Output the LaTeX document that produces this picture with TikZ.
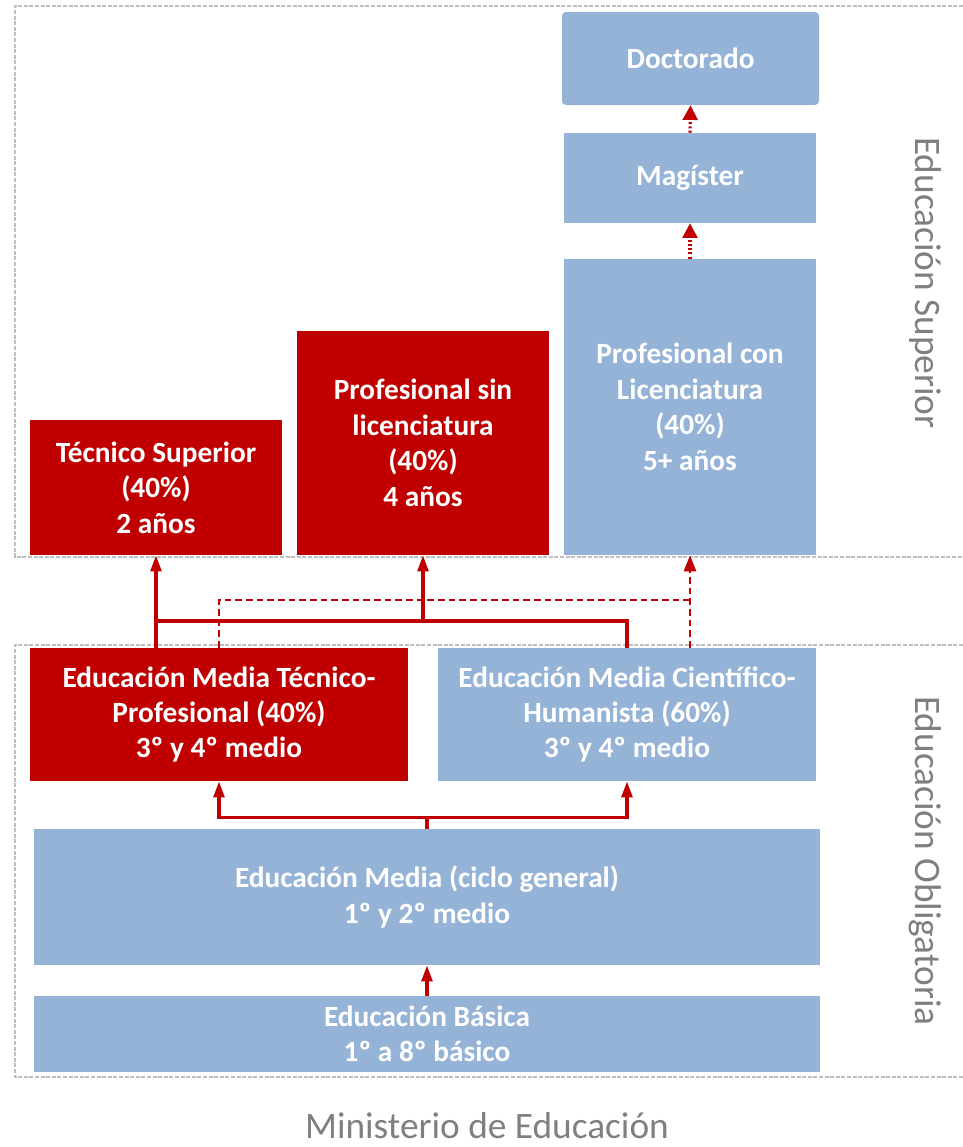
\documentclass[tikz,border=0pt]{standalone}
\usepackage{fontspec}
\setmainfont{Carlito}
\usetikzlibrary{arrows.meta}
\definecolor{rojo}{HTML}{C00000}
\definecolor{azul}{HTML}{95B3D7}
\definecolor{gris}{HTML}{7F7F7F}
\definecolor{borde}{HTML}{BFBFBF}

\begin{document}
\begin{tikzpicture}[x=0.75pt,y=-0.75pt,
	nivel/.style={rectangle, inner sep=0pt, align=center, text=white,
		font=\bfseries\fontsize{22}{26.6}\selectfont},
	caja/.style 2 args={minimum width=#1*0.75pt, minimum height=#2*0.75pt},
	etiqueta/.style={text=gris, font=\fontsize{28}{32}\selectfont},
	marco/.style={draw=borde, line width=0.9pt, dash pattern=on 3pt off 1.2pt},
	linea/.style={draw=rojo, line width=2.5pt},
	flecha/.style={linea, -{Triangle[length=12pt,width=8pt]}},
	rayado/.style={draw=rojo, line width=2pt, dash pattern=on 5pt off 3pt},
	flechadash/.style={rayado, -{Triangle[length=12pt,width=9pt]}},
	flechadot/.style={draw=rojo, line width=2.4pt, dash pattern=on 1.6pt off 1.6pt,
		-{Triangle[length=11pt,width=11pt]}}]
	\useasboundingbox (0,0) rectangle (963,1147);
	% --- frames of the two blocks ---
	\draw[marco] (963,6) -| (15,557) -- (963,557);
	\draw[marco] (963,645) -| (15,1077) -- (963,1077);
	% --- Educacion Superior ---
	\node[nivel, fill=azul, caja={257}{93}, rounded corners=3pt] (doctorado) at (690.5,58.5) {\raisebox{-2pt}{Doctorado}};
	\node[nivel, fill=azul, caja={252}{90}] (magister) at (690,178) {\raisebox{-2pt}{Magíster}};
	\node[nivel, fill=azul, caja={252}{296}] (pcl) at (690,407) {Profesional con\\Licenciatura\\(40\%)\\5+ años};
	\node[nivel, fill=rojo, caja={252}{224}] (psl) at (423,443) {Profesional sin\\licenciatura\\(40\%)\\4 años};
	\node[nivel, fill=rojo, caja={252}{135}] (tecnico) at (156,487.5) {Técnico Superior\\(40\%)\\2 años};
	% --- Educacion Obligatoria ---
	\node[nivel, fill=rojo, caja={378}{133}] (emtp) at (219,714.5) {Educación Media Técnico-\\Profesional (40\%)\\3º y 4º medio};
	\node[nivel, fill=azul, caja={378}{133}] (emch) at (627,714.5) {Educación Media Científico-\\Humanista (60\%)\\3º y 4º medio};
	\node[nivel, fill=azul, caja={786}{136}] (media) at (427,897) {Educación Media (ciclo general)\\1º y 2º medio};
	\node[nivel, fill=azul, caja={786}{76}] (basica) at (427,1034) {Educación Básica\\1º a 8º básico};
	% --- side labels and source ---
	\node[etiqueta, rotate=-90] (superior) at (925,283) {Educación Superior};
	\node[etiqueta, rotate=-90] (obligatoria) at (925,861) {Educación Obligatoria};
	\node[etiqueta] (fuente) at (487,1126) {Ministerio de Educación};
	% --- connectors, lower block ---
	\draw[flecha] (basica.north) -- (media.south);
	\draw[linea] (media.north) -- ++(0,-11) coordinate (bif);
	\draw[flecha] (bif) -| (emtp.south);
	\draw[flecha] (bif) -| (emch.south);
	% --- connectors into Educacion Superior ---
	\coordinate (cruce) at (423,621);
	\coordinate (alto) at (0,600);
	\draw[flecha] (emtp.north -| tecnico.south) -- (tecnico.south);
	\draw[linea] (tecnico.south |- cruce) -- (cruce);
	\draw[flecha] (emch.north) |- (cruce) -- (psl.south);
	\draw[rayado] (emtp.north) |- (pcl.south |- alto);
	\draw[flechadash] (emch.north -| pcl.south) -- (pcl.south);
	\draw[flechadot] (pcl.north) -- (magister.south);
	\draw[flechadot] (magister.north) -- (doctorado.south);
\end{tikzpicture}
\end{document}
